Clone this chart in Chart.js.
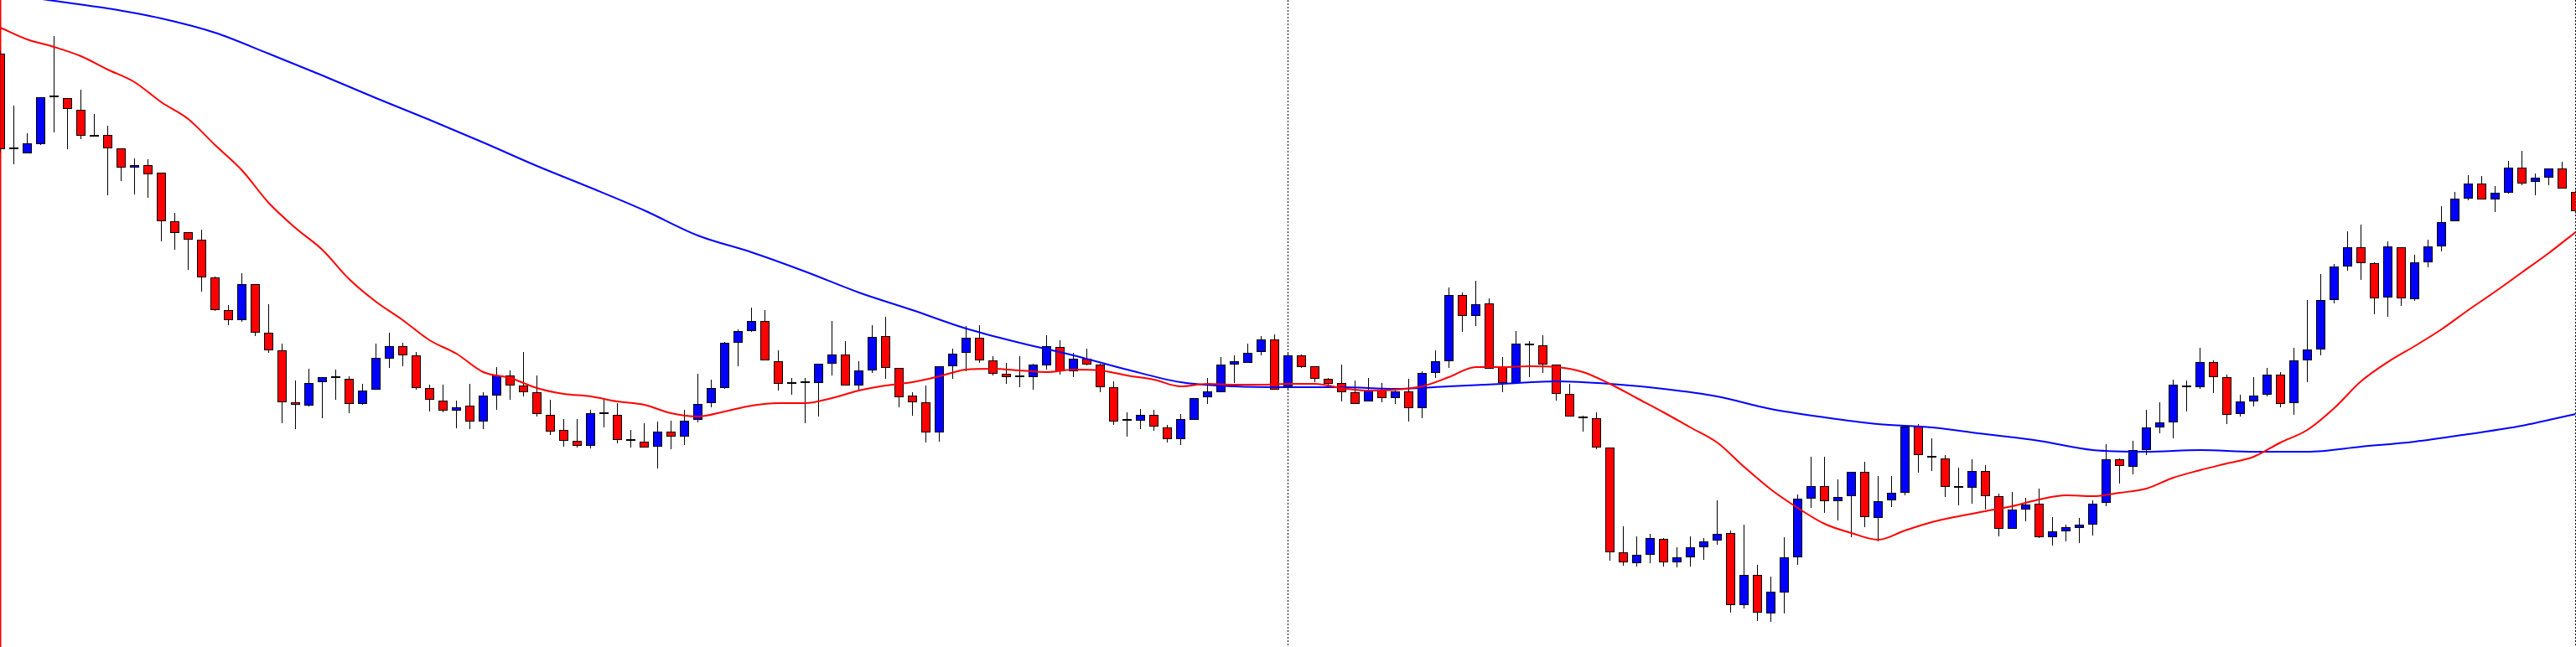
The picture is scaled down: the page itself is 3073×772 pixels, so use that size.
<!DOCTYPE html>
<html>
<head>
<meta charset="utf-8">
<script src="https://cdn.jsdelivr.net/npm/chart.js@4.4.1/dist/chart.umd.min.js"></script>
<style>
  html, body { margin: 0; padding: 0; background: #fff; overflow: hidden; }
  canvas { display: block; }
</style>
</head>
<body>
<canvas id="chart" width="3073" height="772"></canvas>
<script>
"use strict";
// candles, oldest first (price units, no axis shown)
const open = [
  936, 822, 817, 828, 884, 883, 869, 837, 839, 823,
  800, 803, 794, 736, 723, 714, 669, 630, 618, 661,
  603, 582, 520, 516, 544, 549, 548, 518, 535, 572,
  587, 576, 537, 522, 510, 516, 497, 528, 552, 540,
  532, 505, 487, 474, 468, 506, 505, 476, 473, 467,
  485, 479, 499, 519, 537, 591, 605, 617, 569, 542,
  543, 543, 566, 577, 540, 558, 599, 561, 528, 520,
  484, 563, 579, 597, 570, 554, 550, 550, 564, 586,
  557, 572, 565, 538, 498, 498, 505, 490, 476, 499,
  526, 532, 565, 567, 580, 595, 539, 576, 563, 548,
  543, 532, 521, 535, 525, 533, 513, 555, 569, 648,
  623, 638, 562, 543, 590, 588, 565, 530, 503, 501,
  466, 341, 328, 338, 357, 329, 335, 347, 355, 364,
  278, 314, 268, 293, 335, 405, 420, 402, 408, 437,
  382, 403, 412, 491, 456, 453, 420, 418, 438, 408,
  369, 392, 399, 359, 366, 370, 374, 400, 452, 443,
  463, 490, 496, 540, 538, 568, 550, 506, 521, 529,
  553, 519, 570, 583, 642, 682, 705, 686, 645, 705,
  643, 687, 706, 736, 763, 781, 762, 770, 800, 783,
  788, 799, 771,
];
const high = [
  940, 874, 841, 884, 957, 883, 893, 864, 850, 823,
  811, 810, 794, 746, 723, 726, 670, 636, 674, 661,
  637, 590, 546, 560, 550, 559, 551, 542, 590, 603,
  591, 580, 541, 541, 522, 542, 532, 562, 558, 580,
  552, 523, 500, 500, 511, 524, 519, 487, 495, 497,
  498, 511, 554, 547, 592, 607, 633, 630, 582, 549,
  549, 566, 617, 593, 569, 612, 622, 561, 532, 540,
  563, 584, 611, 612, 575, 567, 575, 566, 600, 594,
  579, 584, 566, 545, 508, 512, 511, 493, 506, 525,
  549, 574, 576, 590, 599, 601, 579, 577, 563, 549,
  565, 546, 549, 543, 537, 548, 557, 582, 657, 651,
  665, 644, 574, 605, 593, 600, 565, 542, 504, 508,
  466, 372, 360, 363, 358, 347, 360, 358, 403, 367,
  374, 326, 312, 359, 410, 455, 455, 428, 437, 449,
  432, 432, 492, 494, 477, 457, 442, 452, 445, 411,
  413, 406, 417, 383, 374, 382, 403, 470, 453, 474,
  511, 520, 547, 546, 585, 570, 553, 529, 550, 561,
  556, 585, 642, 673, 685, 724, 732, 687, 712, 705,
  696, 714, 754, 771, 791, 790, 778, 808, 820, 793,
  799, 807, 774,
];
const low = [
  818, 804, 817, 827, 842, 822, 834, 837, 767, 784,
  768, 764, 712, 702, 678, 652, 629, 612, 616, 599,
  579, 495, 488, 515, 501, 523, 507, 517, 535, 561,
  563, 535, 509, 508, 489, 488, 488, 511, 523, 527,
  503, 481, 467, 466, 465, 490, 471, 466, 466, 441,
  464, 469, 496, 514, 536, 563, 604, 570, 534, 529,
  495, 503, 552, 540, 535, 555, 548, 514, 504, 472,
  473, 548, 557, 567, 552, 542, 538, 535, 559, 553,
  550, 564, 532, 493, 479, 488, 486, 472, 469, 499,
  518, 532, 543, 567, 576, 535, 534, 561, 544, 539,
  521, 518, 521, 520, 518, 497, 501, 549, 561, 604,
  611, 560, 532, 543, 550, 555, 522, 503, 485, 464,
  331, 325, 324, 328, 324, 323, 324, 332, 350, 269,
  274, 259, 258, 268, 326, 394, 388, 379, 359, 371,
  354, 395, 409, 436, 438, 407, 397, 399, 392, 360,
  369, 378, 358, 349, 354, 352, 361, 396, 423, 434,
  457, 483, 477, 509, 536, 531, 494, 503, 515, 527,
  514, 505, 544, 576, 638, 677, 666, 625, 622, 635,
  641, 681, 700, 736, 761, 762, 747, 769, 779, 767,
  779, 775, 745,
];
const close = [
  822, 822, 829, 884, 884, 870, 838, 839, 823, 800,
  803, 792, 736, 722, 714, 669, 630, 618, 661, 603,
  582, 520, 517, 543, 550, 549, 518, 534, 573, 587,
  576, 537, 523, 510, 514, 497, 528, 552, 540, 532,
  506, 485, 474, 468, 507, 506, 475, 474, 466, 485,
  479, 498, 518, 537, 591, 605, 617, 570, 542, 544,
  543, 566, 577, 540, 558, 598, 561, 526, 520, 484,
  563, 578, 597, 570, 554, 550, 550, 565, 587, 557,
  572, 565, 538, 497, 498, 505, 491, 476, 500, 525,
  533, 565, 569, 579, 595, 535, 576, 562, 548, 542,
  532, 518, 535, 525, 533, 513, 555, 569, 648, 623,
  637, 560, 543, 590, 588, 565, 530, 503, 501, 466,
  341, 329, 338, 358, 329, 335, 347, 354, 363, 278,
  314, 269, 294, 335, 405, 420, 402, 407, 437, 383,
  402, 412, 491, 457, 454, 419, 418, 438, 408, 369,
  392, 398, 359, 366, 371, 374, 399, 452, 444, 463,
  490, 496, 541, 538, 568, 550, 505, 521, 528, 553,
  518, 570, 583, 642, 682, 705, 686, 644, 706, 644,
  687, 706, 735, 763, 781, 762, 770, 800, 781, 788,
  799, 775, 748,
];

// moving averages, read every FAST_STEP / SLOW_STEP bars
const FAST_STEP = 2;
const maFast = [
  967, 953, 944, 933, 917, 902, 878, 858, 827, 797,
  758, 728, 702, 667, 640, 618, 594, 578, 556, 549,
  537, 530, 527, 521, 517, 507, 503, 509, 516, 519,
  519, 525, 534, 540, 544, 551, 559, 560, 558, 556,
  559, 558, 552, 547, 539, 542, 541, 541, 542, 542,
  537, 534, 535, 539, 550, 562, 562, 563, 562, 556,
  542, 525, 508, 490, 472, 443, 416, 394, 375, 364,
  356, 367, 377, 384, 390, 396, 404, 409, 408, 412,
  417, 430, 439, 447, 455, 472, 487, 513, 545, 568,
  587, 607, 630, 652, 675, 698, 723,
];
const SLOW_STEP = 4;
const maSlow = [
  1008, 999, 990, 978, 961, 936, 910, 883, 857, 830,
  802, 776, 749, 719, 699, 676, 651, 630, 608, 591,
  576, 559, 544, 539, 538, 538, 536, 539, 542, 545,
  542, 536, 527, 512, 502, 494, 490, 482, 474, 463,
  461, 463, 461, 461, 467, 473, 482, 492, 506,
];

const BULL = "#0000ff", BEAR = "#ff0000";
const LAST = open.length - 1;

const idx = open.map((_, i) => i);
const wicks = idx.map((i) => ({ x: i, y: [low[i], high[i]] }));
const bodies = idx.map((i) => ({ x: i,
  y: [Math.min(open[i], close[i]), Math.max(open[i], close[i])] }));
const bodyColors = idx.map((i) => (close[i] >= open[i] ? BULL : BEAR));
const line = (vals, step) => vals.map((v, k) => ({ x: k * step, y: v }));

new Chart(document.getElementById("chart"), {
  type: "bar",
  data: { datasets: [
    { type: "line", data: line(maFast, FAST_STEP), borderColor: "#ff0000",
      borderWidth: 2, pointRadius: 0, cubicInterpolationMode: "monotone", order: 0 },
    { type: "line", data: line(maSlow, SLOW_STEP), borderColor: "#0000ff",
      borderWidth: 2, pointRadius: 0, cubicInterpolationMode: "monotone", order: 0 },
    { data: bodies, backgroundColor: bodyColors, borderColor: "#000", borderWidth: 1,
      borderSkipped: false, barThickness: 11, minBarLength: 2, inflateAmount: 0,
      grouped: false, order: 1 },
    { data: wicks, backgroundColor: "#000", borderWidth: 0, barThickness: 1,
      inflateAmount: 0, grouped: false, order: 2 },
  ] },
  options: {
    responsive: false, animation: false, devicePixelRatio: 1, events: [],
    layout: { padding: { left: 0.5, right: 0.5, top: 0, bottom: 0 } },
    plugins: { legend: { display: false }, tooltip: { enabled: false } },
    scales: {
      x: { type: "linear", min: 0, max: LAST, offset: false,
        ticks: { display: false, stepSize: 96 },
        grid: { offset: false, drawTicks: false, lineWidth: 1,
          color: (c) => (c.tick && c.tick.value > 0 ? "#000" : "rgba(0,0,0,0)") },
        border: { display: false, dash: [2, 2] } },
      xMark: { type: "linear", position: "bottom", min: 0, max: LAST, offset: false,
        ticks: { display: false, stepSize: LAST },
        grid: { offset: false, drawTicks: false, lineWidth: 1.5,
          color: (c) => (c.tick && c.tick.value === 0 ? "#ff0000" : "rgba(0,0,0,0)") },
        border: { display: false } },
      y: { display: false, min: 228, max: 1000 },
    },
  },
});
</script>
</body>
</html>
